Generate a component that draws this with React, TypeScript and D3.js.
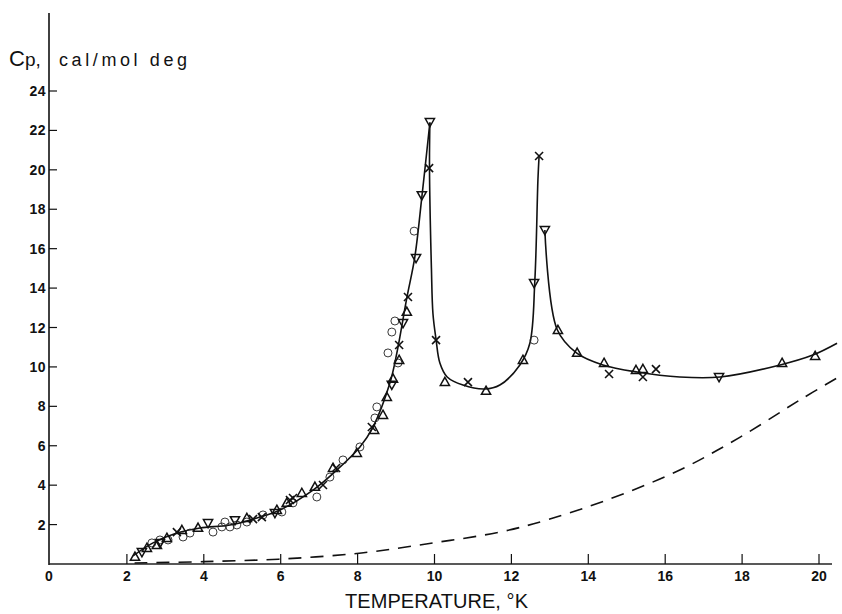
import * as d3 from "d3";

type Pt = [number, number];

const xTicks = [0, 2, 4, 6, 8, 10, 12, 14, 16, 18, 20];
const yTicks = [2, 4, 6, 8, 10, 12, 14, 16, 18, 20, 22, 24];

// smooth curve through the data, drawn in three pieces
const risingCurve: Pt[] = [
  [2.16, 0.41], [2.68, 1.07], [3.3, 1.57], [3.9, 1.83], [4.68, 1.98], [5.46, 2.38],
  [5.98, 2.74], [6.84, 3.75], [7.46, 4.77], [8.06, 5.94], [8.4, 6.95], [8.84, 9.18],
  [9.02, 10.7], [9.28, 13.5], [9.49, 15.6], [9.67, 18.6], [9.88, 22.4],
];
const dipCurve: Pt[] = [
  [9.88, 22.4], [9.87, 20.1], [9.92, 15.0], [9.96, 12.7], [10.04, 11.4], [10.14, 10.2],
  [10.33, 9.49], [10.74, 9.08], [11.31, 8.88], [11.7, 9.08], [12.22, 10.1], [12.48, 11.2],
  [12.61, 14.4], [12.69, 19.5], [12.72, 20.7],
];
const tailCurve: Pt[] = [
  [12.87, 16.95], [13.19, 11.9], [13.7, 10.7], [14.38, 10.1], [15.27, 9.74], [16.38, 9.49],
  [17.43, 9.49], [18.99, 10.1], [19.84, 10.6], [20.47, 11.2],
];
// dashed lattice contribution
const latticeCurve: Pt[] = [
  [2.2, 0.05], [4.0, 0.12], [6.0, 0.25], [8.1, 0.56], [9.96, 1.07], [11.7, 1.62],
  [12.95, 2.25], [14.49, 3.25], [16.38, 4.77], [17.95, 6.44], [19.5, 8.32], [20.47, 9.44],
];

const circles: Pt[] = [
  [2.65, 1.07], [2.86, 1.22], [3.07, 1.22], [3.46, 1.37], [3.64, 1.57], [4.24, 1.62],
  [4.47, 1.88], [4.68, 1.88], [4.86, 1.98], [4.55, 2.13], [5.12, 2.13], [5.54, 2.49],
  [6.03, 2.64], [6.32, 3.1], [6.94, 3.4], [7.28, 4.41], [7.62, 5.28], [8.06, 5.94],
  [8.45, 7.41], [8.5, 7.97], [8.79, 10.71], [8.89, 11.77], [8.97, 12.33], [9.05, 10.2],
  [9.47, 16.89], [12.59, 11.36],
];
const upTriangles: Pt[] = [
  [2.21, 0.36], [2.52, 0.81], [2.78, 0.96], [3.04, 1.32], [3.43, 1.72], [3.85, 1.83],
  [5.12, 2.33], [5.9, 2.74], [6.16, 3.1], [6.55, 3.6], [6.89, 3.91], [7.36, 4.87],
  [7.98, 5.63], [8.43, 6.8], [8.66, 7.56], [8.76, 8.47], [8.92, 9.4], [9.08, 10.35],
  [9.28, 12.79], [10.27, 9.23], [11.34, 8.78], [12.3, 10.35], [13.21, 11.87], [13.71, 10.71],
  [14.41, 10.2], [15.24, 9.84], [15.42, 9.89], [19.04, 10.2], [19.9, 10.55],
];
const downTriangles: Pt[] = [
  [2.39, 0.61], [2.86, 1.07], [4.11, 2.08], [4.81, 2.23], [5.85, 2.59], [8.89, 9.1],
  [9.18, 12.23], [9.52, 15.53], [9.67, 18.72], [9.88, 22.43], [12.59, 14.26], [12.87, 16.95],
  [17.4, 9.49],
];
const crosses: Pt[] = [
  [3.3, 1.62], [5.28, 2.28], [5.51, 2.38], [6.24, 3.25], [6.32, 3.35], [7.1, 4.01],
  [7.44, 4.87], [8.37, 6.95], [9.08, 11.11], [9.31, 13.55], [9.86, 20.09], [10.04, 11.36],
  [10.87, 9.23], [12.72, 20.7], [14.54, 9.64], [15.42, 9.49], [15.76, 9.89],
];

export default function App() {
  const width = 842;
  const height = 614;
  const x = d3.scaleLinear().domain([0, 20]).range([50, 819]);
  const y = d3.scaleLinear().domain([0, 24]).range([564, 91]);

  const line = d3
    .line<Pt>()
    .x((d) => x(d[0]))
    .y((d) => y(d[1]))
    .curve(d3.curveCatmullRom.alpha(0.5));

  const axisX = x(0) - 1;
  const base = y(0);
  const numFont = "'Liberation Sans', Arial, sans-serif";

  return (
    <svg
      width={width}
      height={height}
      style={{ position: "absolute", left: 0, top: 0, background: "#fff" }}
    >
      {/* axes */}
      <line x1={axisX} x2={axisX} y1={13} y2={base + 1} stroke="#111" strokeWidth={1.6} />
      <line x1={axisX} x2={832} y1={base} y2={base} stroke="#222" strokeWidth={1.4} />

      {yTicks.map((t) => (
        <g key={"y" + t}>
          <line x1={axisX} x2={axisX + 8} y1={y(t)} y2={y(t)} stroke="#111" strokeWidth={1.2} />
          <text
            x={axisX - 3}
            y={y(t) + 5}
            textAnchor="end"
            fontFamily={numFont}
            fontWeight="bold"
            fontSize={14}
            letterSpacing={0.5}
            fill="#111"
          >
            {t}
          </text>
        </g>
      ))}

      {xTicks.map((t) => (
        <g key={"x" + t}>
          {t > 0 && (
            <line x1={x(t)} x2={x(t)} y1={base} y2={base - 10} stroke="#111" strokeWidth={1.2} />
          )}
          <text
            x={t === 0 ? axisX : x(t)}
            y={base + 17}
            textAnchor="middle"
            fontFamily={numFont}
            fontWeight="bold"
            fontSize={14}
            fill="#111"
          >
            {t}
          </text>
        </g>
      ))}

      {/* axis titles */}
      <text x={9} y={66} fontFamily={numFont} fontSize={22} fill="#111">
        C<tspan fontSize={19}>p,</tspan>
      </text>
      <text
        x={59}
        y={66}
        fontFamily={numFont}
        fontSize={18}
        fill="#111"
        textLength={128}
        lengthAdjust="spacing"
      >
        cal/mol deg
      </text>
      <text
        x={345}
        y={608}
        fontFamily={numFont}
        fontSize={20}
        fill="#111"
        textLength={183}
        lengthAdjust="spacing"
      >
        TEMPERATURE, °K
      </text>

      {/* curves */}
      <path d={line(latticeCurve) ?? ""} fill="none" stroke="#111" strokeWidth={1.6} strokeDasharray="13 9" />
      {[risingCurve, dipCurve, tailCurve].map((c, i) => (
        <path key={"c" + i} d={line(c) ?? ""} fill="none" stroke="#111" strokeWidth={1.6} />
      ))}

      {/* markers */}
      {circles.map((d, i) => (
        <circle key={"o" + i} cx={x(d[0])} cy={y(d[1])} r={4} fill="none" stroke="#222" strokeWidth={0.9} />
      ))}
      {upTriangles.map((d, i) => (
        <path
          key={"u" + i}
          transform={`translate(${x(d[0])},${y(d[1])})`}
          d="M0,-4.8L4.6,3.4L-4.6,3.4Z"
          fill="none"
          stroke="#111"
          strokeWidth={1.5}
        />
      ))}
      {downTriangles.map((d, i) => (
        <path
          key={"d" + i}
          transform={`translate(${x(d[0])},${y(d[1])})`}
          d="M0,4.8L4.6,-3.4L-4.6,-3.4Z"
          fill="none"
          stroke="#111"
          strokeWidth={1.5}
        />
      ))}
      {crosses.map((d, i) => (
        <path
          key={"x" + i}
          transform={`translate(${x(d[0])},${y(d[1])})`}
          d="M-4,-4L4,4M4,-4L-4,4"
          fill="none"
          stroke="#111"
          strokeWidth={1.6}
        />
      ))}
    </svg>
  );
}
